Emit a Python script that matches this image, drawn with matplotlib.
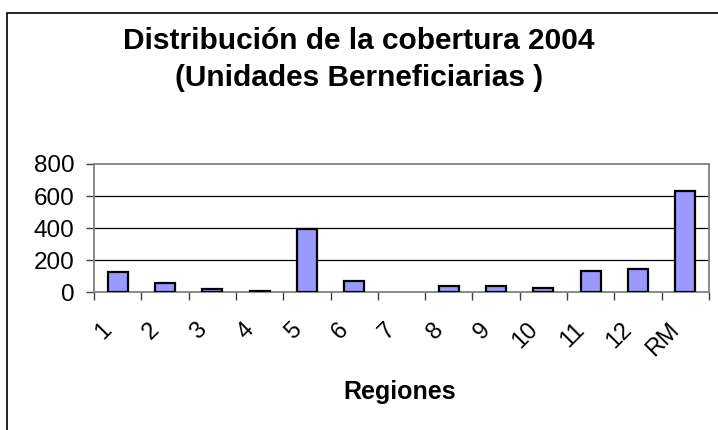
import numpy as np
import matplotlib.pyplot as plt
from matplotlib.patches import Rectangle
import matplotlib.transforms as mtransforms

regiones = ['1', '2', '3', '4', '5', '6', '7', '8', '9', '10', '11', '12', 'RM']
unidades = [127, 56, 20, 5, 394, 73, 0, 41, 37, 27, 135, 148, 629]
yticks = [0, 200, 400, 600, 800]

plt.rcParams['font.family'] = ['Liberation Sans', 'DejaVu Sans']

W, H = 718, 430
fig = plt.figure(figsize=(W / 100, H / 100), dpi=100)

# marco exterior del grafico
fig.patches.append(Rectangle((7 / W, -0.01), 1.0, (H - 13) / H + 0.01,
                             transform=fig.transFigure, fill=False,
                             edgecolor='black', lw=1.2))

ax = fig.add_axes([94 / W, (H - 292.3) / H, 615 / W, 128.3 / H])
x = np.arange(len(regiones))
bars = ax.bar(x, unidades, width=0.42, color='#9999FF', edgecolor='black', lw=1.6, zorder=3)
for b, v in zip(bars, unidades):
    if v == 0:
        b.set_linewidth(0)

ax.set_xlim(-0.5, len(regiones) - 0.5)
ax.set_ylim(0, 800)
ax.set_yticks(yticks)
ax.set_yticklabels([str(v) for v in yticks], fontsize=17.5)
for v in yticks[1:-1]:
    ax.axhline(v, color='black', lw=0.9, zorder=1)

for s in ax.spines.values():
    s.set_color('#808080')
    s.set_linewidth(1.3)

# ticks en los limites de categoria, etiquetas en el centro
ax.set_xticks(np.arange(-0.5, len(regiones), 1))
ax.set_xticklabels([])
ax.set_xticks(x, minor=True)
ax.set_xticklabels(regiones, minor=True, fontsize=17, rotation=45,
                   ha='right', va='top', rotation_mode='anchor')
ax.tick_params(axis='x', which='major', length=6, width=1, color='#404040', direction='out')
ax.tick_params(axis='x', which='minor', length=0, pad=19)
ax.tick_params(axis='y', length=6, width=1, color='#404040', pad=8)
offset = mtransforms.ScaledTranslation(-17 / 100, 0, fig.dpi_scale_trans)
for lab in ax.get_xticklabels(minor=True):
    lab.set_transform(lab.get_transform() + offset)

fig.text(0.5, 1 - 41 / H, 'Distribución de la cobertura 2004', ha='center', va='center',
         fontsize=21.5, fontweight='bold')
fig.text(0.5, 1 - 78 / H, '(Unidades Berneficiarias )', ha='center', va='center',
         fontsize=21.5, fontweight='bold')
fig.text(400 / W, 1 - 392 / H, 'Regiones', ha='center', va='center',
         fontsize=18, fontweight='bold')

fig.savefig('out.png', dpi=100)
